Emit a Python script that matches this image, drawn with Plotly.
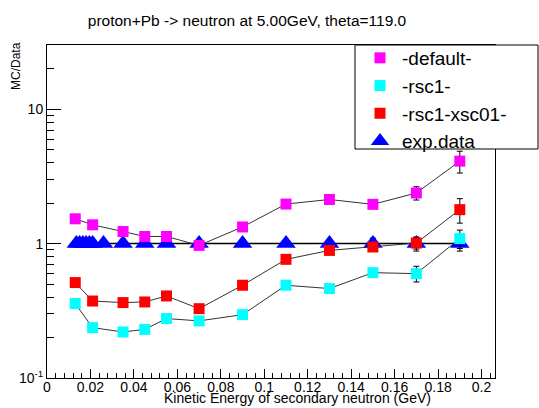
import plotly.graph_objects as go

# ---- data ----
model_energy = [0.013, 0.021, 0.035, 0.045, 0.055, 0.07, 0.09, 0.11, 0.13, 0.15, 0.17, 0.19]
default_ratio = [1.53, 1.38, 1.23, 1.13, 1.13, 0.97, 1.33, 1.97, 2.13, 1.96, 2.38, 4.11]
default_err = [0.03, 0.03, 0.03, 0.03, 0.03, 0.03, 0.04, 0.06, 0.07, 0.09, 0.27, 0.76]
rsc1_ratio = [0.358, 0.237, 0.22, 0.23, 0.277, 0.266, 0.296, 0.49, 0.463, 0.608, 0.598, 1.09]
rsc1_err = [0.01, 0.01, 0.01, 0.01, 0.01, 0.01, 0.01, 0.02, 0.02, 0.03, 0.08, 0.17]
xsc01_ratio = [0.513, 0.374, 0.364, 0.368, 0.408, 0.328, 0.49, 0.764, 0.89, 0.944, 1.01, 1.79]
xsc01_err = [0.01, 0.01, 0.01, 0.01, 0.01, 0.01, 0.02, 0.03, 0.03, 0.05, 0.1, 0.37]

exp_energy = [0.0135, 0.015, 0.0165, 0.018, 0.0195, 0.021, 0.026, 0.035, 0.045,
              0.055, 0.07, 0.09, 0.11, 0.13, 0.15, 0.17, 0.19]
exp_ratio = [1.0] * 17
exp_err = [0.02, 0.02, 0.02, 0.02, 0.02, 0.02, 0.02, 0.02, 0.02,
           0.02, 0.03, 0.03, 0.04, 0.06, 0.1, 0.12, 0.12]

y_tickvals = [0.1, 1, 10]
y_ticktext = ["10<sup>-1</sup>", "1", "10"]

title_text = "proton+Pb -> neutron at 5.00GeV, theta=119.0"
x_title = "Kinetic Energy of secondary neutron (GeV)"
y_title = "MC/Data"

FONT = "Liberation Sans, Arial, sans-serif"

fig = go.Figure()

# experimental data (drawn first, beneath the model points)
fig.add_trace(go.Scatter(
    x=exp_energy, y=exp_ratio, mode="lines", line=dict(color="black", width=1.5),
    showlegend=False, hoverinfo="skip"))
fig.add_trace(go.Scatter(
    x=exp_energy, y=exp_ratio, mode="markers", name="exp.data", legendrank=4,
    marker=dict(symbol="triangle-up", size=17, color="#0000FF"),
    error_y=dict(type="data", array=exp_err, color="black", thickness=1, width=3)))

series = [
    ("-default-", default_ratio, default_err, "#FF00FF", 1),
    ("-rsc1-", rsc1_ratio, rsc1_err, "#00FFFF", 2),
    ("-rsc1-xsc01-", xsc01_ratio, xsc01_err, "#FF0000", 3),
]
for name, vals, errs, col, rank in series:
    fig.add_trace(go.Scatter(
        x=model_energy, y=vals, mode="lines", line=dict(color="#333333", width=1),
        showlegend=False, hoverinfo="skip"))
    fig.add_trace(go.Scatter(
        x=model_energy, y=vals, mode="markers", name=name, legendrank=rank,
        marker=dict(symbol="square", size=11, color=col),
        error_y=dict(type="data", array=errs, color="black", thickness=1, width=3)))

L, R, T, B = 47, 44, 45, 30
W, H = 539, 408
pw = W - L - R
ph = H - T - B

fig.update_layout(
    width=W, height=H,
    margin=dict(l=L, r=R, t=T, b=B, autoexpand=False),
    paper_bgcolor="white", plot_bgcolor="white",
    font=dict(family=FONT, color="black"),
    title=dict(text=title_text, font=dict(size=15.5, family=FONT),
               x=247 / W, xanchor="center", xref="container",
               y=1 - 21 / H, yanchor="middle", yref="container"),
    showlegend=True,
    legend=dict(x=(358 - L) / pw, y=1 + 6 / ph, xanchor="left", yanchor="top",
                bgcolor="rgba(0,0,0,0)", borderwidth=0,
                font=dict(size=19, family=FONT), tracegroupgap=0,
                itemsizing="trace", itemwidth=34),
    xaxis=dict(range=[0, 0.2062], dtick=0.02, tick0=0, ticks="inside", ticklen=9,
               tickcolor="black", showline=True, linecolor="black", linewidth=1,
               mirror=True, showgrid=False, zeroline=False, automargin=False,
               tickfont=dict(size=14, family=FONT), ticklabelstandoff=-4,
               minor=dict(dtick=0.004, ticks="inside", ticklen=5, tickcolor="black",
                          showgrid=False)),
    yaxis=dict(type="log", range=[-1, 1.478], tickmode="array", tickvals=y_tickvals,
               ticktext=y_ticktext, ticks="inside", ticklen=14, tickcolor="black",
               showline=True, linecolor="black", linewidth=1, mirror=True,
               showgrid=False, zeroline=False, automargin=False,
               tickfont=dict(size=14, family=FONT),
               minor=dict(dtick="D1", ticks="inside", ticklen=7, tickcolor="black",
                          showgrid=False)),
    annotations=[
        dict(text=x_title, xref="paper", yref="paper", x=(297 - L) / pw, y=0,
             xanchor="center", yanchor="middle", yshift=-20, showarrow=False,
             font=dict(size=14, family=FONT)),
        dict(text=y_title, xref="paper", yref="paper", x=(16 - L) / pw,
             y=(H - B - 66) / ph, xanchor="center", yanchor="middle",
             textangle=-90, showarrow=False, font=dict(size=12, family=FONT)),
    ],
    shapes=[
        dict(type="rect", xref="paper", yref="paper",
             x0=(355 - L) / pw, x1=(538 - L) / pw, y0=(H - B - 149) / ph, y1=1,
             line=dict(color="black", width=1), fillcolor="white", layer="above"),
    ],
)

fig.write_html("out.html", config={"displayModeBar": False},
               post_script="document.body.style.margin='0';document.body.style.padding='0';")
